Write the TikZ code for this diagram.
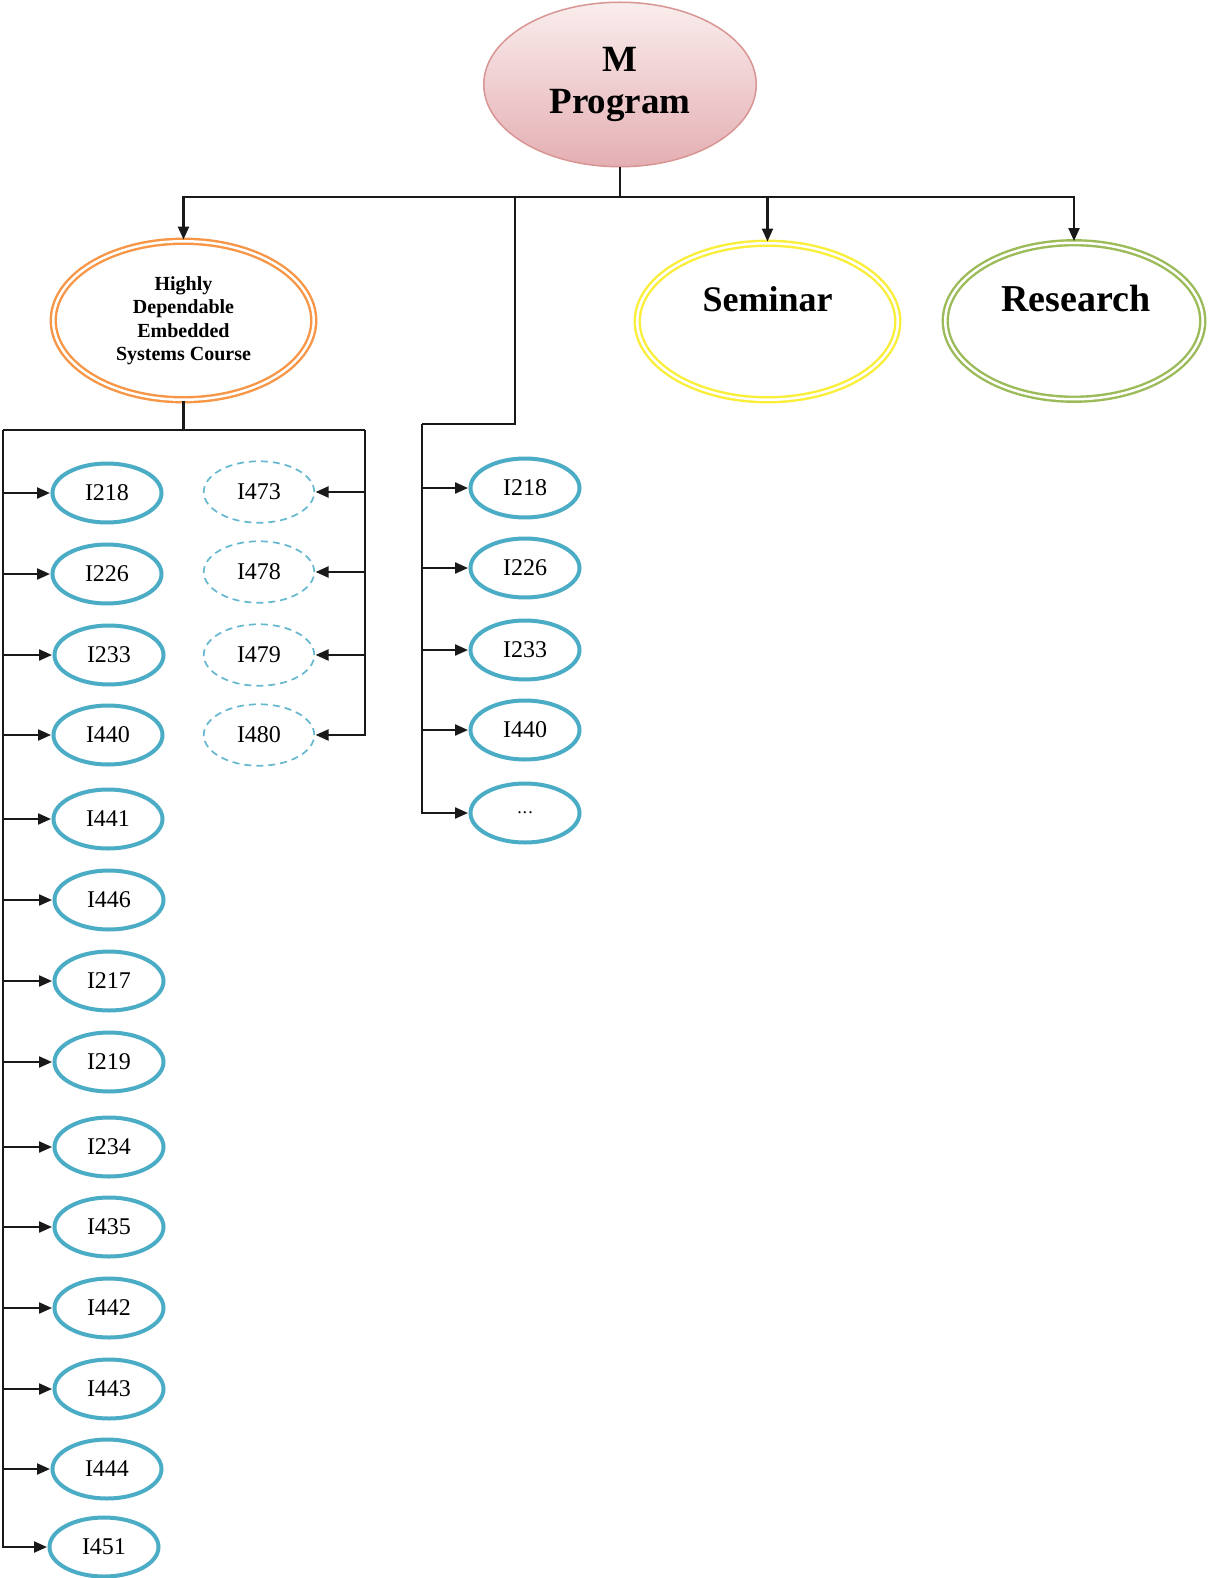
\documentclass[tikz,border=0pt]{standalone}
\usepackage{fontspec}
\setmainfont{Liberation Serif}
\usetikzlibrary{shapes.geometric,arrows.meta}
\definecolor{cblue}{HTML}{4BACC6}
\definecolor{corange}{HTML}{F79646}
\definecolor{cyellow}{HTML}{F9EE3A}
\definecolor{cgreen}{HTML}{9BBB59}
\definecolor{cpinkT}{HTML}{FAEDED}
\definecolor{cpinkB}{HTML}{E4AFB3}
\definecolor{cpinkD}{HTML}{D99594}
\tikzset{
  line/.style={draw=black!90, line width=2.2pt},
  arr/.style={line, -{Triangle[length=13pt,width=11pt]}, shorten >=0.5pt},
  topell/.style={ellipse, inner sep=0pt, draw=cpinkD, line width=1.5pt,
     top color=cpinkT, bottom color=cpinkB, minimum width=272.5pt, minimum height=164.5pt,
     align=center, font=\fontsize{37}{42}\selectfont\bfseries},
  dbl/.style={ellipse, inner sep=0pt, line width=2.4pt, double=white, double distance=2.5pt},
  course/.style={ellipse, inner sep=0pt, draw=cblue, line width=4pt,
     minimum width=109pt, minimum height=59pt, font=\fontsize{24}{28}\selectfont},
  opt/.style={ellipse, inner sep=0pt, draw=cblue!85, line width=1.7pt, dash pattern=on 7pt off 5pt,
     minimum width=110.5pt, minimum height=61.5pt, font=\fontsize{24}{28}\selectfont},
  bigtxt/.style={anchor=base, inner sep=0pt, font=\bfseries}
}
\begin{document}
\begin{tikzpicture}[x=1pt,y=-1pt]
\useasboundingbox (0,0) rectangle (1208,1578);
\fill[white] (0,0) rectangle (1208,1578);

% top node
\node[topell] (mp) at (620,84.5) {M\\Program};

% second level
\node[dbl, draw=corange, minimum width=260.5pt, minimum height=158.5pt,
      align=center, font=\fontsize{20}{23.5}\selectfont\bfseries] (hd) at (183.5,320.5)
      {Highly\\Dependable\\Embedded\\Systems Course};
\node[dbl, draw=cyellow, minimum width=260.5pt, minimum height=156.5pt] (sem) at (767.5,321.5) {};
\node[bigtxt, font=\fontsize{36}{40}\selectfont\bfseries] (semt) at (767.5,312) {Seminar};
\node[dbl, draw=cgreen, minimum width=257.5pt, minimum height=156.5pt] (res) at (1074,321) {};
\node[bigtxt, font=\fontsize{38}{42}\selectfont\bfseries] (rest) at (1076,312) {Research};

% connectors from top
\coordinate (hj) at (620,197);
\coordinate (mj) at (515,197);
\coordinate (mk) at (422,424);
\draw[line] (mp.south) -- (hj);
\draw[arr] (hj) -| (hd.north);
\draw[arr] (hj) -| (sem.north);
\draw[arr] (hj) -| (res.north);

% left column
\foreach \x/\y/\t [count=\i] in {107/493/I218, 107/574/I226, 109/655/I233, 108/735/I440,
   108/819/I441, 109/900/I446, 109/981/I217, 109/1062/I219, 109/1147/I234, 109/1227/I435,
   109/1308/I442, 109/1389/I443, 107/1469/I444, 104/1547/I451}
  \node[course] (a\i) at (\x,\y) {\t};

% dashed column
\foreach \y/\t [count=\i] in {492/I473, 572/I478, 655/I479, 735/I480}
  \node[opt] (d\i) at (259,\y) {\t};

% middle column
\foreach \y/\t [count=\i] in {488/I218, 568/I226, 650/I233, 730/I440}
  \node[course] (b\i) at (525,\y) {\t};
\node[course, font=\fontsize{18}{20}\selectfont] (b5) at (525,813) {.\kern1pt.\kern1pt.};

% left tree
\coordinate (ll) at (3,430);
\coordinate (lr) at (365,430);
\draw[line] (hd.south) -- (hd.south |- ll);
\draw[line] (ll) -- (lr);
\foreach \i in {1,...,14}
  \draw[arr] (ll) |- (a\i.west);
\foreach \i in {1,...,4}
  \draw[arr] (lr) |- (d\i.east);

% middle tree
\draw[line] (mj) |- (mk);
\foreach \i in {1,...,5}
  \draw[arr] (mk) |- (b\i.west);
\end{tikzpicture}
\end{document}
